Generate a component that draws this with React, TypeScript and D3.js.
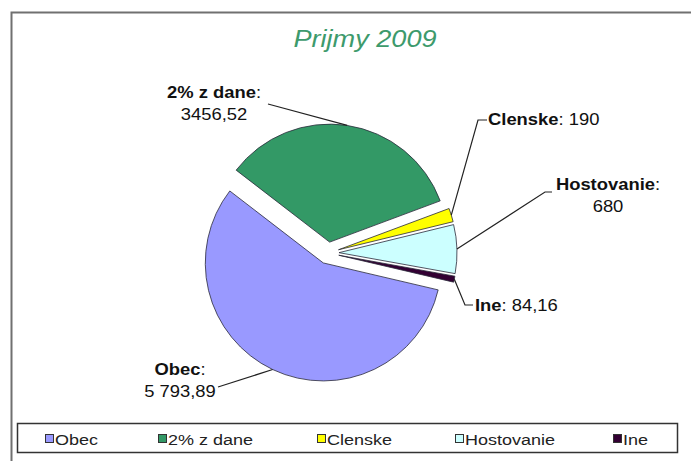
import * as d3 from "d3";
import { useEffect, useRef } from "react";

// Prijmy 2009 – pie with exploded slices and leader labels
const categories = ["Obec", "2% z dane", "Clenske", "Hostovanie", "Ine"];
const values = [5793.89, 3456.52, 190, 680, 84.16];
const valueLabels = ["5 793,89", "3456,52", "190", "680", "84,16"];
const colors = ["#9999ff", "#339966", "#ffff00", "#ccffff", "#330033"];

// label placement (layout only)
const labelLayout = [
  { x: 180, y: 375, twoLine: true, hook: [[218, 387]] },
  { x: 214, y: 98, twoLine: true, hook: [[268, 104]] },
  { x: 488, y: 125, twoLine: false, hook: [[487, 120], [478, 120]] },
  { x: 608, y: 190, twoLine: true, hook: [[552, 192], [545, 192]] },
  { x: 475, y: 311, twoLine: false, hook: [[473, 305], [465, 305]] },
];
const legendX = [45, 158, 317, 455, 613];

const W = 691;
const H = 461;
const FONT = "Arial, 'Liberation Sans', sans-serif";

export default function App() {
  const ref = useRef<SVGSVGElement>(null);

  useEffect(() => {
    if (!ref.current) return;
    const svg = d3.select(ref.current);
    svg.selectAll("*").remove();

    svg.append("rect").attr("width", W).attr("height", H).attr("fill", "#fff");

    // outer chart frame (runs off the right/bottom of the picture)
    svg
      .append("rect")
      .attr("x", 11.5)
      .attr("y", 12.5)
      .attr("width", 700)
      .attr("height", 480)
      .attr("fill", "none")
      .attr("stroke", "#707070")
      .attr("stroke-width", 2);

    svg
      .append("text")
      .attr("transform", `translate(365,47) scale(1.13,1)`)
      .attr("text-anchor", "middle")
      .attr("font-family", FONT)
      .attr("font-style", "italic")
      .attr("font-size", 24)
      .attr("fill", "#3d9a6c")
      .text("Prijmy 2009");

    const cx = 328;
    const cy = 253;
    const r = 118;
    const explode = 11;
    const rot = (103.2 * Math.PI) / 180;

    const pie = d3
      .pie<number>()
      .sort(null)
      .startAngle(rot)
      .endAngle(rot + 2 * Math.PI);
    const arcs = pie(values);
    const arc = d3.arc<d3.PieArcDatum<number>>().innerRadius(0).outerRadius(r);

    const mid = (d: d3.PieArcDatum<number>) => (d.startAngle + d.endAngle) / 2;

    svg
      .append("g")
      .selectAll("path")
      .data(arcs)
      .join("path")
      .attr("transform", (d) => {
        const a = mid(d);
        return `translate(${cx + explode * Math.sin(a)},${cy - explode * Math.cos(a)})`;
      })
      .attr("d", arc)
      .attr("fill", (_, i) => colors[i])
      .attr("stroke", "#2a2a3a")
      .attr("stroke-width", 0.8)
      .attr("stroke-linejoin", "round");

    // leader lines
    const line = d3.line();
    arcs.forEach((d, i) => {
      const a = mid(d);
      const end: [number, number] = [
        cx + (r + explode) * Math.sin(a),
        cy - (r + explode) * Math.cos(a),
      ];
      const pts = [...(labelLayout[i].hook as [number, number][]), end];
      svg
        .append("path")
        .attr("d", line(pts))
        .attr("fill", "none")
        .attr("stroke", "#222")
        .attr("stroke-width", 1.2);
    });

    // data labels
    categories.forEach((name, i) => {
      const L = labelLayout[i];
      const t = svg
        .append("text")
        .attr("transform", `translate(${L.x},${L.y}) scale(1.15,1)`)
        .attr("text-anchor", L.twoLine ? "middle" : "start")
        .attr("font-family", FONT)
        .attr("font-size", 16)
        .attr("fill", "#111");
      t.append("tspan").attr("font-weight", "bold").text(name);
      t.append("tspan").text(L.twoLine ? ":" : ": " + valueLabels[i]);
      if (L.twoLine) {
        t.append("tspan").attr("x", 0).attr("dy", 22).text(valueLabels[i]);
      }
    });

    // legend
    svg
      .append("rect")
      .attr("x", 17.5)
      .attr("y", 423.5)
      .attr("width", 660)
      .attr("height", 29)
      .attr("fill", "#fff")
      .attr("stroke", "#333")
      .attr("stroke-width", 1.5);

    const items = svg
      .append("g")
      .selectAll("g")
      .data(categories)
      .join("g")
      .attr("transform", (_, i) => `translate(${legendX[i]},0)`);

    items
      .append("rect")
      .attr("x", 0.5)
      .attr("y", 434.5)
      .attr("width", 8)
      .attr("height", 8)
      .attr("fill", (_, i) => colors[i])
      .attr("stroke", "#333")
      .attr("stroke-width", 1);

    items
      .append("text")
      .attr("transform", "translate(10,444.5) scale(1.2,1)")
      .attr("font-family", FONT)
      .attr("font-size", 15)
      .attr("fill", "#222")
      .text((d) => d);
  }, []);

  return (
    <svg
      ref={ref}
      width={W}
      height={H}
      style={{ position: "absolute", left: 0, top: 0, display: "block" }}
    />
  );
}
